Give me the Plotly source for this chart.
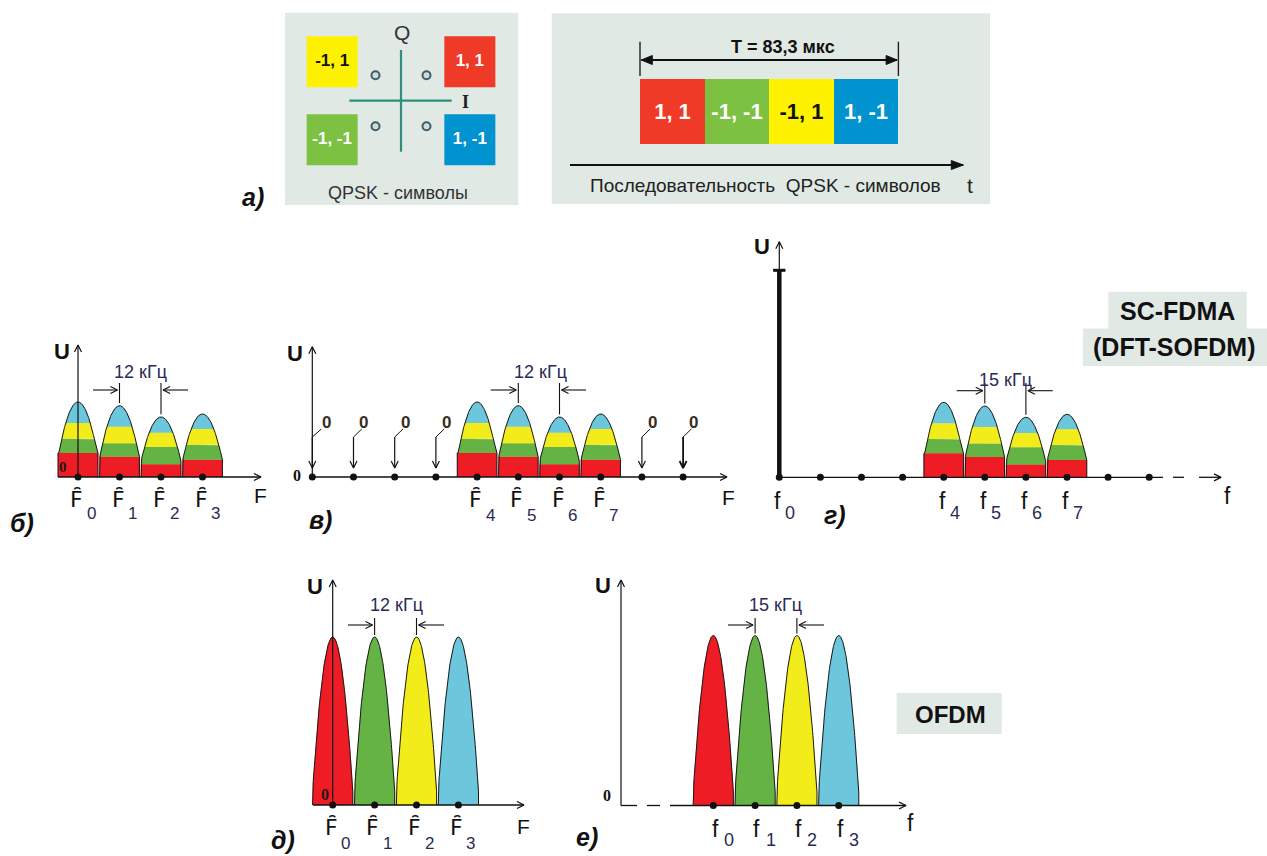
import math
import numpy as np
import plotly.graph_objects as go

W_PX, H_PX = 1267, 856

# ===================== data =====================
# QPSK constellation (panel a, left)
qpsk_I = [1, -1, -1, 1]
qpsk_Q = [1, 1, -1, -1]
qpsk_labels = ["1, 1", "-1, 1", "-1, -1", "1, -1"]
qpsk_fill = ["#ee3a26", "#fff200", "#7cc142", "#0093cf"]
qpsk_text = ["white", "#111111", "white", "white"]

# QPSK symbol sequence (panel a, right)
seq_t = [0.5, 1.5, 2.5, 3.5]
seq_height = [1, 1, 1, 1]
seq_labels = ["1, 1", "-1, -1", "-1, 1", "1, -1"]
seq_fill = ["#ee3a26", "#7cc142", "#fff200", "#0093cf"]
seq_text = ["white", "white", "#111111", "white"]

# DFT output spectral components per subcarrier (red, green, yellow, blue parts)
comp_red = [0.32, 0.27, 0.17, 0.23]
comp_green = [0.19, 0.18, 0.23, 0.20]
comp_yellow = [0.21, 0.22, 0.19, 0.21]
comp_blue = [0.28, 0.28, 0.21, 0.20]

# panel б
b_idx = [0, 1, 2, 3]
b_names = ["0", "1", "2", "3"]
# panel в
v_idx = [4, 5, 6, 7]
v_names = ["4", "5", "6", "7"]
v_zero_idx = [0, 1, 2, 3, 8, 9]
# panel г
g_idx = [4, 5, 6, 7]
g_names = ["4", "5", "6", "7"]
g_dots = [0, 1, 2, 3, 4, 5, 6, 7, 8, 9]
g_dc_amp = 2.76
# panels д, е (OFDM)
ofdm_idx = [0, 1, 2, 3]
ofdm_amp = [1.0, 1.0, 1.0, 1.0]
ofdm_names = ["0", "1", "2", "3"]

# ===================== style =====================
RED, GREEN, YELLOW, BLUE = "#ee1c24", "#66b345", "#f2ec1b", "#6cc6dc"
BAND_COLORS = [RED, GREEN, YELLOW, BLUE]
BOX_BG = "#e1e9e5"
INK = "#111111"
NAVY = "#2a2a55"
SANS = "Liberation Sans, Arial, sans-serif"
SERIF = "Liberation Serif, Times New Roman, serif"
DJV = "DejaVu Sans, sans-serif"

fig = go.Figure()
axes = {}
annotations = []
shapes = []


class Panel:
    def __init__(self, n, box, x0, dx, y0, dy):
        l, t, r, b = box
        self.x0, self.dx, self.y0, self.dy = x0, dx, y0, dy
        key = "" if n == 1 else str(n)
        self.xr = "x" + key
        self.yr = "y" + key
        axes["xaxis" + key] = dict(domain=[l / W_PX, r / W_PX], range=[self.X(l), self.X(r)],
                                   visible=False, fixedrange=True, anchor=self.yr)
        axes["yaxis" + key] = dict(domain=[1 - b / H_PX, 1 - t / H_PX], range=[self.Y(b), self.Y(t)],
                                   visible=False, fixedrange=True, anchor=self.xr)

    def X(self, px):
        return (px - self.x0) / self.dx

    def Y(self, py):
        return (self.y0 - py) / self.dy


def line(p, xs, ys, color=INK, width=1.3, dash=None):
    fig.add_trace(go.Scatter(x=list(xs), y=list(ys), mode="lines",
                             line=dict(color=color, width=width, dash=dash),
                             xaxis=p.xr, yaxis=p.yr, hoverinfo="skip", showlegend=False))


def dots(p, xs, size=7):
    fig.add_trace(go.Scatter(x=list(xs), y=[0] * len(xs), mode="markers",
                             marker=dict(color=INK, size=size), xaxis=p.xr, yaxis=p.yr,
                             hoverinfo="skip", showlegend=False, cliponaxis=False))


def arrow(p, x0, y0, x1, y1, width=1.2, color=INK, head_len=7.0, head_half=3.5,
          filled=False, both=False):
    line(p, [x0, x1], [y0, y1], color, width)
    ends = [(x0, y0, x1, y1)] + ([(x1, y1, x0, y0)] if both else [])
    for ax_, ay_, bx, by in ends:
        vx, vy = (bx - ax_) * p.dx, (by - ay_) * p.dy
        L = math.hypot(vx, vy)
        ux, uy = vx / L, vy / L
        nx, ny = -uy, ux
        w1x = bx + (-head_len * ux + head_half * nx) / p.dx
        w1y = by + (-head_len * uy + head_half * ny) / p.dy
        w2x = bx + (-head_len * ux - head_half * nx) / p.dx
        w2y = by + (-head_len * uy - head_half * ny) / p.dy
        if filled:
            fig.add_trace(go.Scatter(x=[bx, w1x, w2x, bx], y=[by, w1y, w2y, by], fill="toself",
                                     fillcolor=color, mode="lines", line=dict(color=color, width=1),
                                     xaxis=p.xr, yaxis=p.yr, hoverinfo="skip", showlegend=False))
        else:
            line(p, [w1x, bx, w2x], [w1y, by, w2y], color, width)


def text(p, x, y, s, size=16, color=INK, family=SANS, weight="normal", style="normal", xanchor="center"):
    annotations.append(dict(x=x, y=y, xref=p.xr, yref=p.yr, text=s, showarrow=False,
                            font=dict(size=size, color=color, family=family, weight=weight, style=style),
                            xanchor=xanchor, yanchor="middle"))


def ptext(px, py, s, size=16, color=INK, family=SANS, weight="normal", style="normal"):
    annotations.append(dict(x=px / W_PX, y=1 - py / H_PX, xref="paper", yref="paper", text=s,
                            showarrow=False, xanchor="center", yanchor="middle",
                            font=dict(size=size, color=color, family=family, weight=weight, style=style)))


def pbox(l, t, r, b, color=BOX_BG):
    shapes.append(dict(type="rect", xref="paper", yref="paper", x0=l / W_PX, x1=r / W_PX,
                       y0=1 - b / H_PX, y1=1 - t / H_PX, fillcolor=color, line=dict(width=0),
                       layer="below"))


def draw_hump(p, c, levels, colors, hb, wc, outline="#1a1a1a"):
    levels = list(levels)
    amp = levels[-1]
    floor = levels[0] if len(levels) > 1 else 0.0

    def env(d):
        return np.maximum(amp * (1 - (d / wc) ** 2), floor)

    lo = 0.0
    for hi, col in zip(levels, colors):
        if lo >= amp:
            break
        if env(np.array([hb]))[0] >= lo:
            e = hb
        else:
            e = wc * np.sqrt(1 - lo / amp)
        d = np.linspace(-e, e, 81)
        top = np.minimum(hi, env(d))
        xs = np.concatenate([[-e], d, [e]]) + c
        ys = np.concatenate([[lo], top, [lo]])
        fig.add_trace(go.Scatter(x=xs, y=ys, fill="toself", fillcolor=col, mode="lines",
                                 line=dict(width=0.6, color=col), xaxis=p.xr, yaxis=p.yr,
                                 hoverinfo="skip", showlegend=False))
        lo = hi
    d = np.linspace(-hb, hb, 121)
    xs = np.concatenate([[-hb], d, [hb]]) + c
    ys = np.concatenate([[0], env(d), [0]])
    line(p, xs, ys, outline, 1.0)


def spacing_marker(p, ytop, yarrow, c1, c2, amp1, amp2, xl, xr, label, lx, ly, gap):
    line(p, [c1, c1], [ytop, amp1 + gap], INK, 1.1)
    line(p, [c2, c2], [ytop, amp2 + gap], INK, 1.1)
    arrow(p, xl, yarrow, c1 - 0.05, yarrow, width=1.1)
    arrow(p, xr, yarrow, c2 + 0.05, yarrow, width=1.1)
    text(p, lx, ly, label, size=18, color=NAVY)


def cum_levels(k):
    return np.cumsum([comp_red[k], comp_green[k], comp_yellow[k], comp_blue[k]])


def freq_label(p, c, letter, n, lx, ly, sx, sy, size=22, sub_size=17, family=SANS):
    # lx/sx: pixel offsets from the carrier; ly/sy: absolute pixel rows
    text(p, c + lx / p.dx, p.Y(ly), letter, size=size, family=family)
    text(p, c + sx / p.dx, p.Y(sy), n, size=sub_size, color=NAVY, xanchor="left")


# ===================== panel а (left): QPSK constellation =====================
pa = Panel(1, (230, 0, 540, 215), 401, 25.5, 100.7, 25.5)
pbox(285, 12.7, 518.3, 205)
line(pa, [0, 0], [pa.Y(151.7), pa.Y(50)], "#2f8f7a", 2.2)
line(pa, [pa.X(349.3), pa.X(451.7)], [0, 0], "#2f8f7a", 2.2)
fig.add_trace(go.Scatter(x=qpsk_I, y=qpsk_Q, mode="markers", xaxis=pa.xr, yaxis=pa.yr,
                         marker=dict(size=8, color="#cfdcdc", line=dict(color="#3f5d68", width=2)),
                         hoverinfo="skip", showlegend=False))
fig.add_trace(go.Scatter(x=[i * 2.7 for i in qpsk_I], y=[q * 1.53 for q in qpsk_Q],
                         mode="markers+text", xaxis=pa.xr, yaxis=pa.yr,
                         marker=dict(symbol="square", size=51, color=qpsk_fill, line=dict(width=0)),
                         text=qpsk_labels, textposition="middle center",
                         textfont=dict(size=17, color=qpsk_text, family=SANS, weight="bold"),
                         hoverinfo="skip", showlegend=False, cliponaxis=False))
text(pa, pa.X(402.3), pa.Y(32.7), "Q", size=21, color="#333333")
text(pa, pa.X(465), pa.Y(101.7), "I", size=18, color="#222222", family=SERIF, weight="bold")
text(pa, pa.X(398.3), pa.Y(192.7), "QPSK - символы", size=18, color="#333333")
ptext(253.3, 196.7, "а)", size=25, weight="bold", style="italic")

# ===================== panel а (right): symbol sequence =====================
ps = Panel(2, (540, 0, 1010, 215), 640, 64.6, 144, 64.7)
pbox(551.7, 13.3, 990, 204)
fig.add_trace(go.Bar(x=seq_t, y=seq_height, width=1, xaxis=ps.xr, yaxis=ps.yr,
                     marker=dict(color=seq_fill, line=dict(width=0)),
                     text=seq_labels, textposition="inside", insidetextanchor="middle",
                     constraintext="none",
                     textfont=dict(size=22, color=seq_text, family=SANS, weight="bold"),
                     hoverinfo="skip", showlegend=False))
T_end = len(seq_t)
arrow(ps, 0.02, ps.Y(60), T_end - 0.02, ps.Y(60), width=1.8, head_len=11, head_half=4.5,
      filled=True, both=True)
line(ps, [0, 0], [ps.Y(76), ps.Y(41.7)], "#222222", 1.4)
line(ps, [T_end, T_end], [ps.Y(76), ps.Y(41.7)], "#222222", 1.4)
text(ps, ps.X(783.3), ps.Y(46.7), "T = 83,3 мкс", size=18, weight="bold")
arrow(ps, ps.X(570), ps.Y(165), ps.X(963.3), ps.Y(165), width=1.8, head_len=12, head_half=4.5,
      filled=True)
text(ps, ps.X(765), ps.Y(185), "Последовательность  QPSK - символов", size=19, color="#222222")
text(ps, ps.X(970), ps.Y(185), "t", size=21, color="#222222")

# ===================== panel б =====================
HB, WB = 0.48, 0.56
pb = Panel(3, (0, 330, 285, 545), 78, 41.5, 477, 75)
for k, c in enumerate(b_idx):
    draw_hump(pb, c, cum_levels(k), BAND_COLORS, HB, WB)
arrow(pb, pb.X(58), 0, pb.X(261), 0, width=1.3)
arrow(pb, 0, 0, 0, pb.Y(345), width=1.2)
dots(pb, b_idx)
text(pb, pb.X(63), pb.Y(466.7), "0", size=15, family=SERIF, weight="bold", color="#2a1515")
text(pb, pb.X(61.7), pb.Y(351.7), "U", size=22, weight="bold")
text(pb, pb.X(260), pb.Y(495), "F", size=21)
b_amp = [cum_levels(k)[-1] for k in range(4)]
spacing_marker(pb, pb.Y(383), pb.Y(390), 1, 2, b_amp[1], b_amp[2], pb.X(93), pb.X(188),
               "12 кГц", pb.X(140), pb.Y(372), 0.035)
for c, n in zip(b_idx, b_names):
    freq_label(pb, c, "F\u0311", n, -1.5, 499, 6.5, 513, family=DJV)
ptext(21.7, 523, "б)", size=25, weight="bold", style="italic")

# ===================== panel в =====================
pv = Panel(4, (280, 330, 745, 545), 312.3, 41.2, 477, 75)
for k, c in enumerate(v_idx):
    draw_hump(pv, c, cum_levels(k), BAND_COLORS, HB, WB)
arrow(pv, 0, 0, pv.X(727), 0, width=1.3)
arrow(pv, 0, 0, 0, pv.Y(346.7), width=1.2)
dots(pv, v_zero_idx + v_idx)
for c in v_zero_idx:
    arrow(pv, c, pv.Y(437), c, pv.Y(468), width=1.2 if c < 9 else 1.8)
    dxs = 0.2 if c > 0 else 0.22
    line(pv, [c, c + dxs], [pv.Y(437), pv.Y(429)], INK, 1.0)
    text(pv, c + dxs + (0.05 if c > 0 else 0.12), pv.Y(422), "0", size=17, weight="bold", color="#3a2c20")
text(pv, pv.X(297), 0.02, "0", size=16, family=SERIF, weight="bold")
text(pv, pv.X(295), pv.Y(353), "U", size=22, weight="bold")
text(pv, pv.X(728), pv.Y(497), "F", size=21)
v_amp = [cum_levels(k)[-1] for k in range(4)]
spacing_marker(pv, pv.Y(383), pv.Y(390), 5, 6, v_amp[1], v_amp[2], pv.X(490.7), pv.X(586),
               "12 кГц", pv.X(540), pv.Y(372), 0.035)
for c, n in zip(v_idx, v_names):
    freq_label(pv, c, "F\u0311", n, -1.5, 499, 6.5, 515, family=DJV)
ptext(320, 520, "в)", size=25, weight="bold", style="italic")

# ===================== panel г =====================
pg = Panel(5, (745, 230, 1267, 545), 779.3, 41.1, 477.3, 75)
for k, c in enumerate(g_idx):
    draw_hump(pg, c, cum_levels(k), BAND_COLORS, HB, WB)
line(pg, [0, pg.X(1163)], [0, 0], INK, 1.3)
line(pg, [pg.X(1173), pg.X(1184)], [0, 0], INK, 1.3)
arrow(pg, pg.X(1199), 0, pg.X(1221), 0, width=1.3)
arrow(pg, 0, 0, 0, pg.Y(241.7), width=1.2)
line(pg, [0, 0], [0, g_dc_amp], INK, 4.5)
line(pg, [-0.15, 0.15], [g_dc_amp, g_dc_amp], INK, 3)
dots(pg, g_dots)
text(pg, pg.X(761.7), pg.Y(246.7), "U", size=22, weight="bold")
text(pg, pg.X(1227), pg.Y(496), "f", size=23)
spacing_marker(pg, pg.Y(383), pg.Y(390.7), 5, 6, v_amp[1], v_amp[2], pg.X(956.7), pg.X(1052.7),
               "15 кГц", pg.X(1005), pg.Y(380), 0.035)
for c, n in zip([0] + g_idx, ["0"] + g_names):
    freq_label(pg, c, "f", n, -1.7, 501, 4.0, 513, size=23, sub_size=18)
ptext(835, 515, "г)", size=25, weight="bold", style="italic")
pbox(1108.3, 291.7, 1246.7, 329)
pbox(1083, 328.5, 1267, 366)
ptext(1177, 311, "SC-FDMA", size=25, weight="bold")
ptext(1174, 347, "(DFT-SOFDM)", size=25, weight="bold")

# ===================== panel д =====================
HO, WO = 0.48, 0.50
pd_ = Panel(6, (265, 560, 560, 856), 332.7, 41.9, 805, 168)
for c, a, col in zip(ofdm_idx, ofdm_amp, BAND_COLORS):
    draw_hump(pd_, c, [a], [col], HO, WO)
arrow(pd_, pd_.X(313), 0, pd_.X(524), 0, width=1.3)
arrow(pd_, 0, 0, 0, pd_.Y(580), width=1.2)
dots(pd_, ofdm_idx)
text(pd_, pd_.X(325), pd_.Y(794), "0", size=16, family=SERIF, weight="bold", color="#2a1515")
text(pd_, pd_.X(315), pd_.Y(586.7), "U", size=22, weight="bold")
text(pd_, pd_.X(523), pd_.Y(826), "F", size=21)
spacing_marker(pd_, pd_.Y(618), pd_.Y(625), 1, 2, ofdm_amp[1], ofdm_amp[2], pd_.X(348), pd_.X(444),
               "12 кГц", pd_.X(396.7), pd_.Y(605), 0.012)
for c, n in zip(ofdm_idx, ofdm_names):
    freq_label(pd_, c, "F\u0311", n, -1.7, 827, 6.0, 843, family=DJV)
ptext(283, 840, "д)", size=25, weight="bold", style="italic")

# ===================== panel е =====================
pe = Panel(7, (560, 560, 1267, 856), 713.3, 41.8, 805.5, 170)
for c, a, col in zip(ofdm_idx, ofdm_amp, BAND_COLORS):
    draw_hump(pe, c, [a], [col], HO, WO)
y_ax = pe.X(621)
line(pe, [y_ax, pe.X(637)], [0, 0], INK, 1.3)
line(pe, [pe.X(647), pe.X(660)], [0, 0], INK, 1.3)
arrow(pe, pe.X(670), 0, pe.X(906), 0, width=1.3)
arrow(pe, y_ax, 0, y_ax, pe.Y(580), width=1.2)
dots(pe, ofdm_idx)
text(pe, pe.X(606.7), pe.Y(795), "0", size=16, family=SERIF, weight="bold")
text(pe, pe.X(603), pe.Y(585), "U", size=22, weight="bold")
text(pe, pe.X(910), pe.Y(823), "f", size=23)
spacing_marker(pe, pe.Y(618), pe.Y(625), 1, 2, ofdm_amp[1], ofdm_amp[2], pe.X(728), pe.X(824),
               "15 кГц", pe.X(775), pe.Y(605), 0.012)
for c, n in zip(ofdm_idx, ofdm_names):
    freq_label(pe, c, "f", n, 1.7, 829, 8.5, 840, size=23, sub_size=18)
ptext(587, 837, "е)", size=25, weight="bold", style="italic")
pbox(896.7, 693, 1001.7, 734)
ptext(950, 714, "OFDM", size=24, weight="bold")

fig.update_layout(width=W_PX, height=H_PX, margin=dict(l=0, r=0, t=0, b=0),
                  paper_bgcolor="white", plot_bgcolor="rgba(0,0,0,0)", showlegend=False,
                  annotations=annotations, shapes=shapes, bargap=0, **axes)
fig.write_html("out.html", config={"displayModeBar": False},
               post_script="document.body.style.margin='0px';document.body.style.overflow='hidden';")
